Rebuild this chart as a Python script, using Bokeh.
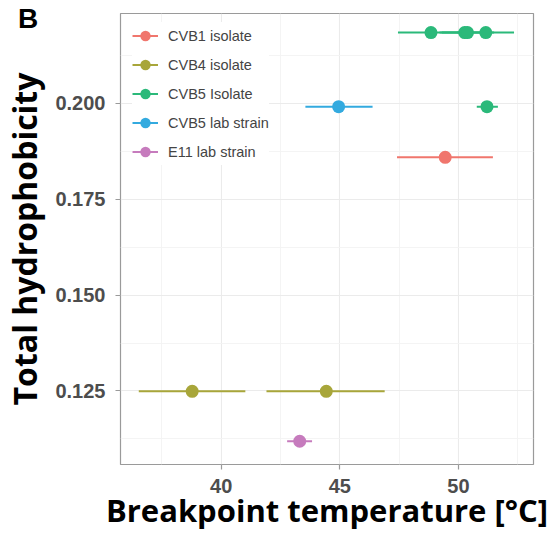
from bokeh.plotting import figure
from bokeh.models import (Range1d, FixedTicker, PrintfTickFormatter, Legend,
                          LegendItem, ColumnDataSource, Div)
from bokeh.layouts import column
from bokeh.embed import file_html
from bokeh.resources import INLINE

# ---- data ----
groups = ["CVB1 isolate", "CVB4 isolate", "CVB5 Isolate", "CVB5 lab strain", "E11 lab strain"]
colors = ["#F0766D", "#A8A63A", "#2BB97A", "#33AADF", "#C67BBD"]

cvb1_x = [49.44];  cvb1_lo = [47.41];  cvb1_hi = [51.45];  cvb1_y = [0.1859]
cvb4_x = [38.78, 44.43];  cvb4_lo = [36.53, 41.91];  cvb4_hi = [41.02, 46.89];  cvb4_y = [0.1249, 0.1249]
cvb5_x = [48.84, 50.26, 50.38, 51.15, 51.20]
cvb5_lo = [47.45, 49.20, 49.30, 49.95, 50.77]
cvb5_hi = [50.20, 51.30, 51.50, 52.34, 51.66]
cvb5_y = [0.2184, 0.2184, 0.2184, 0.2184, 0.1991]
cvb5lab_x = [44.95];  cvb5lab_lo = [43.55];  cvb5lab_hi = [46.38];  cvb5lab_y = [0.1991]
e11_x = [43.31];  e11_lo = [42.78];  e11_hi = [43.83];  e11_y = [0.1119]

x_ticks = [40, 45, 50]
x_minor = [37.5, 42.5, 47.5, 52.5]
y_ticks = [0.125, 0.150, 0.175, 0.200]
y_minor = [0.1125, 0.1375, 0.1625, 0.1875, 0.2125]

x_title = "Breakpoint temperature [°C]"
y_title = "Total hydrophobicity"
panel_tag = "B"

series = [
    (cvb1_x, cvb1_lo, cvb1_hi, cvb1_y),
    (cvb4_x, cvb4_lo, cvb4_hi, cvb4_y),
    (cvb5_x, cvb5_lo, cvb5_hi, cvb5_y),
    (cvb5lab_x, cvb5lab_lo, cvb5lab_hi, cvb5lab_y),
    (e11_x, e11_lo, e11_hi, e11_y),
]

X0, X1 = 35.76, 53.16
Y0, Y1 = 0.10584, 0.22338

p = figure(width=555, height=533, output_backend="svg", toolbar_location=None,
           x_range=Range1d(X0, X1), y_range=Range1d(Y0, Y1),
           min_border_left=120, min_border_right=22, min_border_top=13, min_border_bottom=69)
p.background_fill_color = "white"
p.border_fill_color = "white"
p.outline_line_color = "#9a9a9a"
p.outline_line_width = 1.2

p.xaxis.ticker = FixedTicker(ticks=x_ticks, minor_ticks=x_minor)
p.yaxis.ticker = FixedTicker(ticks=y_ticks, minor_ticks=y_minor)
p.yaxis.formatter = PrintfTickFormatter(format="%.3f")
for g in (p.xgrid, p.ygrid):
    g.grid_line_color = "#ebebeb"
    g.grid_line_width = 1.1
    g.minor_grid_line_color = "#f3f3f3"
    g.minor_grid_line_width = 0.9

for ax in (p.xaxis, p.yaxis):
    ax.axis_line_color = None
    ax.major_tick_out = 5
    ax.major_tick_in = 0
    ax.minor_tick_out = 0
    ax.minor_tick_in = 0
    ax.major_tick_line_color = "#9a9a9a"
    ax.major_tick_line_width = 1.2
    ax.major_label_text_font = "Liberation Sans"
    ax.major_label_text_font_style = "bold"
    ax.major_label_text_font_size = "20px"
    ax.major_label_text_color = "#4d4d4d"
    ax.axis_label_text_font = "Open Sans"
    ax.axis_label_text_font_style = "bold"
    ax.axis_label_text_color = "black"
p.yaxis.axis_label_text_font_size = "32px"
p.xaxis.axis_label_text_font_size = "31px"
p.yaxis.major_label_standoff = 10
p.xaxis.major_label_standoff = 9
p.yaxis.axis_label = y_title
p.xaxis.axis_label = x_title
p.yaxis.axis_label_standoff = 6
p.xaxis.axis_label_standoff = -7

items = []
for name, col, (xs, lo, hi, ys) in zip(groups, colors, series):
    src = ColumnDataSource(dict(x=xs, lo=lo, hi=hi, y=ys))
    seg = p.segment(x0="lo", x1="hi", y0="y", y1="y", source=src,
                    line_color=col, line_width=2)
    pts = p.scatter(x="x", y="y", source=src, size=13, marker="circle",
                    fill_color=col, line_color=col, line_width=0)
    items.append(LegendItem(label=name, renderers=[seg, pts]))

legend = Legend(items=items, location=(12, 299), margin=0, padding=2,
                glyph_width=26, glyph_height=27, label_height=27, spacing=2,
                label_standoff=10, border_line_color=None,
                background_fill_color="white", background_fill_alpha=1.0,
                label_text_font="Liberation Sans", label_text_font_size="14.5px",
                label_text_color="#444444")
p.add_layout(legend, "center")

tag = Div(text=panel_tag,
          styles={"position": "absolute", "left": "13px", "top": "0px",
                  "font-family": "Liberation Sans", "font-weight": "bold",
                  "font-size": "28px", "line-height": "1", "color": "black",
                  "z-index": "10"})

layout = column(p, tag)
open("out.html", "w").write(file_html(layout, INLINE))
